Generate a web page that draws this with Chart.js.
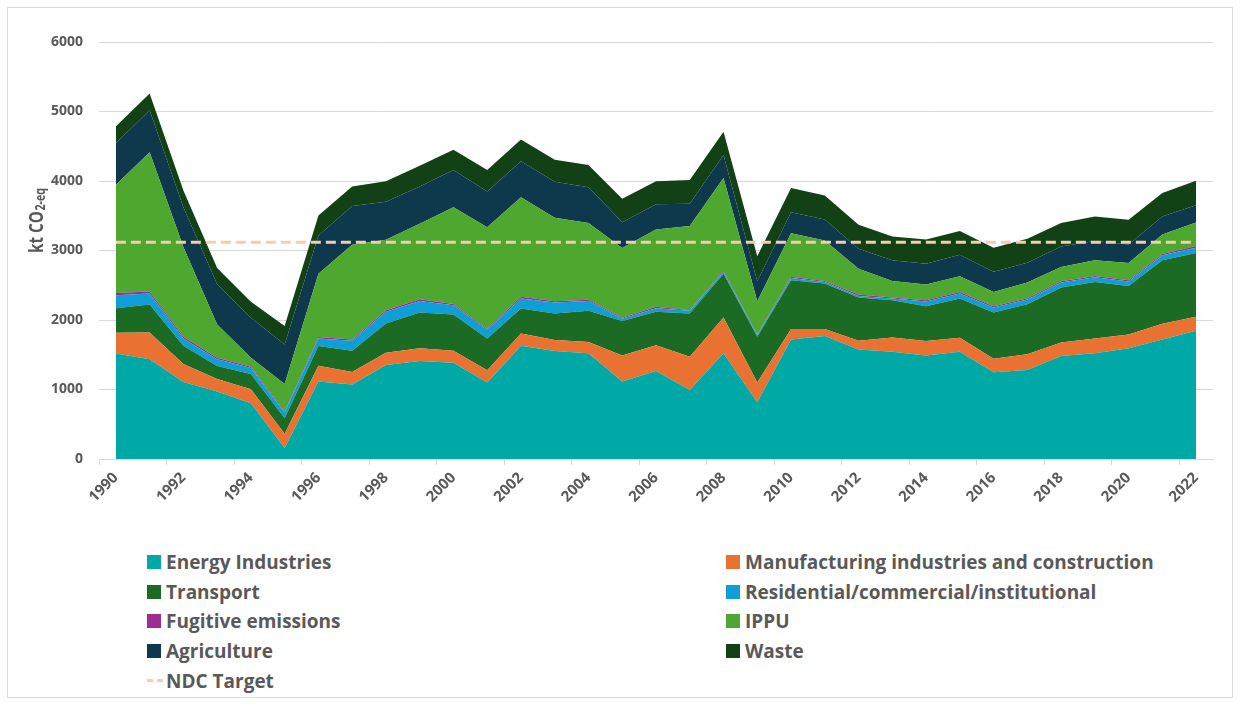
<!DOCTYPE html>
<html>
<head>
<meta charset="utf-8">
<script src="https://cdn.jsdelivr.net/npm/chart.js@4.4.1/dist/chart.umd.min.js"></script>
<style>
  body { margin: 0; background: #fff; font-family: "Open Sans", sans-serif; }
  #wrap { position: relative; width: 1241px; height: 706px; overflow: hidden; }
  #frame { position: absolute; left: 7px; top: 7px; width: 1226px; height: 691px; border: 1px solid #d9d9d9; box-sizing: border-box; }
  #plot { position: absolute; left: 0; top: 0; width: 1241px; height: 540px; }
  #legend { position: absolute; left: 147px; top: 547px; width: 1060px; display: grid; grid-template-columns: 579px 480px; }
  .item { height: 29.7px; display: flex; align-items: center; color: #595959; font-weight: 700; font-size: 19px; white-space: nowrap; }
  .box { width: 14px; height: 14px; margin-right: 5px; flex: none; }
  .dash { width: 16px; height: 0; border-top: 3px dashed #f8cbad; margin-right: 3px; flex: none; }
</style>
</head>
<body>
<div id="wrap">
  <div id="frame"></div>
  <div id="plot"><canvas id="emissionsChart" width="1241" height="540"></canvas></div>
  <div id="legend"></div>
</div>
<script>
const years = ['1990','1991','1992','1993','1994','1995','1996','1997','1998','1999','2000','2001','2002','2003','2004','2005','2006','2007','2008','2009','2010','2011','2012','2013','2014','2015','2016','2017','2018','2019','2020','2021','2022'];

const energyIndustries = [1520,1434,1109,970,803,158,1114,1071,1353,1410,1386,1099,1630,1554,1520,1114,1267,994,1520,817,1721,1769,1577,1544,1491,1544,1248,1281,1482,1520,1592,1721,1845];
const manufacturing = [296,387,258,182,201,205,229,181,177,182,172,177,177,157,163,377,368,478,516,282,148,100,125,205,206,201,196,225,196,215,201,224,201];
const transport = [354,402,263,186,220,225,282,306,420,516,521,459,358,383,449,493,483,622,631,660,703,655,621,536,502,564,664,721,788,813,697,913,918];
const residential = [187,157,105,96,86,81,110,144,168,167,134,120,144,157,143,33,52,38,29,24,33,24,24,24,67,71,72,67,72,67,63,72,76];
const fugitive = [33,29,24,24,19,15,19,19,23,24,19,14,24,20,15,15,19,9,14,10,19,14,19,14,19,24,19,20,19,19,19,19,24];
const ippu = [1554,2003,1291,478,129,396,913,1362,1014,1085,1391,1467,1434,1199,1104,1003,1114,1210,1334,478,626,583,373,239,225,225,205,224,206,224,248,282,339];
const agriculture = [602,607,573,578,574,569,550,559,545,536,536,512,516,521,516,373,363,320,330,286,302,301,287,296,301,311,292,287,296,278,268,258,249];
const waste = [239,239,239,235,229,263,287,278,296,301,291,311,315,316,320,335,330,344,334,359,348,345,344,345,349,339,344,344,335,353,354,340,354];
const ndcTarget = 3120;

const seriesNames = ['Energy Industries', 'Manufacturing industries and construction', 'Transport', 'Residential/commercial/institutional', 'Fugitive emissions', 'IPPU', 'Agriculture', 'Waste'];
const seriesColors = ['#00a9a5', '#e97132', '#1b6b24', '#0f9ed5', '#a02b93', '#4ea72e', '#0e384c', '#124116'];
const seriesData = [energyIndustries, manufacturing, transport, residential, fugitive, ippu, agriculture, waste];

const fontFamily = '"Open Sans", sans-serif';
const textGrey = '#595959';

const datasets = seriesData.map(function(values, i) {
    return {
        label: seriesNames[i],
        data: values,
        backgroundColor: seriesColors[i],
        borderColor: seriesColors[i],
        borderWidth: 0,
        pointRadius: 0,
        fill: i === 0 ? 'origin' : '-1',
        stack: 'emissions'
    };
});

datasets.push({
    label: 'NDC Target',
    data: years.map(() => ndcTarget),
    borderColor: '#f8cbad',
    backgroundColor: '#f8cbad',
    borderWidth: 3,
    borderDash: [10, 5],
    pointRadius: 0,
    fill: false,
    stack: 'ndc',
    order: -1
});

// y axis title with subscript, drawn by hand (the original text is narrow)
const axisTitle = {
    id: 'axisTitle',
    afterDraw(chart) {
        const ctx = chart.ctx;
        ctx.save();
        ctx.translate(43, 253);
        ctx.rotate(-Math.PI / 2);
        ctx.scale(0.76, 1);
        ctx.fillStyle = textGrey;
        ctx.font = 'bold 20px ' + fontFamily;
        ctx.fillText('kt CO', 0, 0);
        const w = ctx.measureText('kt CO').width;
        ctx.font = 'bold 14px ' + fontFamily;
        ctx.fillText('2-eq', w + 1, 2);
        ctx.restore();
    }
};

const ctx = document.getElementById('emissionsChart').getContext('2d');
const emissionsChart = new Chart(ctx, {
    type: 'line',
    data: { labels: years, datasets: datasets },
    options: {
        responsive: false,
        animation: false,
        layout: { padding: { left: 0, right: 28, top: 42, bottom: 0 } },
        plugins: {
            legend: { display: false },
            tooltip: { enabled: false }
        },
        scales: {
            x: {
                offset: true,
                grid: {
                    offset: true,
                    drawOnChartArea: false,
                    tickLength: 6,
                    tickColor: (c) => (c.index % 2 === 0 ? '#d9d9d9' : 'rgba(0,0,0,0)')
                },
                border: { display: true, color: '#d9d9d9' },
                ticks: {
                    autoSkip: false,
                    maxRotation: 45,
                    minRotation: 45,
                    padding: 4,
                    color: textGrey,
                    font: { family: fontFamily, size: 15, weight: 'bold' },
                    callback: (val, idx) => (idx % 2 === 0 ? years[idx] : '')
                },
                afterFit(scale) { scale.height = 81; }
            },
            y: {
                stacked: true,
                min: 0,
                max: 6000,
                grid: { color: '#d9d9d9', drawTicks: false },
                border: { display: false },
                ticks: {
                    stepSize: 1000,
                    padding: 16,
                    color: textGrey,
                    font: { family: fontFamily, size: 14, weight: 'bold' },
                    callback: (val) => String(val)
                },
                afterFit(scale) { scale.width = 99; }
            }
        }
    },
    plugins: [axisTitle]
});

// html legend, two columns like the original
const legend = document.getElementById('legend');
emissionsChart.data.datasets.forEach(function(ds) {
    const item = document.createElement('div');
    item.className = 'item';
    const mark = document.createElement('span');
    if (ds.label === 'NDC Target') {
        mark.className = 'dash';
    } else {
        mark.className = 'box';
        mark.style.background = ds.backgroundColor;
    }
    item.appendChild(mark);
    item.appendChild(document.createTextNode(ds.label));
    legend.appendChild(item);
});
</script>
</body>
</html>
